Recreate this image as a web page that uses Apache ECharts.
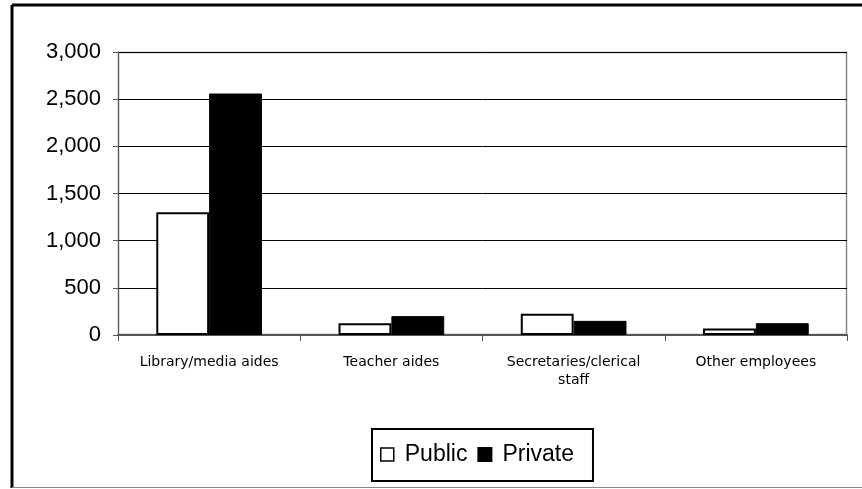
<!DOCTYPE html>
<html>
<head>
<meta charset="utf-8">
<script src="https://cdn.jsdelivr.net/npm/echarts@6/dist/echarts.min.js"></script>
<style>
  html, body { margin: 0; padding: 0; background: #fff; }
  #chart { width: 862px; height: 489px; }
</style>
</head>
<body>
<div id="chart"></div>
<script>
// Staff categories and counts by school sector
const categories = ['Library/media aides', 'Teacher aides', 'Secretaries/clerical\nstaff', 'Other employees'];
const publicValues = [1300, 125, 225, 70];
const privateValues = [2560, 200, 150, 125];
const yTicks = [0, 500, 1000, 1500, 2000, 2500, 3000];

const chart = echarts.init(document.getElementById('chart'), null, { renderer: 'canvas' });
const FONT = '"Liberation Sans", Arial, sans-serif';

chart.setOption({
  animation: false,
  backgroundColor: '#fff',
  graphic: [
    // outer frame: heavy top/left edges, grey bottom
    { type: 'line', shape: { x1: 12, y1: 5, x2: 862, y2: 5 }, style: { stroke: '#000', lineWidth: 3 } },
    { type: 'line', shape: { x1: 12, y1: 5, x2: 12, y2: 488 }, style: { stroke: '#000', lineWidth: 3 } },
    { type: 'line', shape: { x1: 12, y1: 487.5, x2: 862, y2: 487.5 }, style: { stroke: '#888', lineWidth: 1 } },
    // plot area box
    { type: 'rect', shape: { x: 118.5, y: 52.5, width: 728, height: 282 }, style: { fill: 'none', stroke: '#888', lineWidth: 1.5 }, z: 0 }
  ],
  grid: { left: 118, top: 52, right: 15, bottom: 154, containLabel: false },
  legend: {
    top: 429,
    left: 372,
    itemWidth: 13,
    itemHeight: 13,
    itemGap: 10,
    padding: [14, 19, 15, 8],
    borderColor: '#000',
    borderWidth: 2,
    textStyle: { fontFamily: FONT, fontSize: 23, color: '#000', padding: [0, 0, 0, 6] },
    data: [
      { name: 'Public', icon: 'rect', itemStyle: { color: '#fff', borderColor: '#000', borderWidth: 1.5 } },
      { name: 'Private', icon: 'rect', itemStyle: { color: '#000' } }
    ]
  },
  xAxis: {
    type: 'category',
    data: categories,
    axisLine: { lineStyle: { color: '#555', width: 2 } },
    axisTick: { show: true, alignWithLabel: false, length: 6, lineStyle: { color: '#555' } },
    axisLabel: {
      fontFamily: '"DejaVu Sans", sans-serif', fontSize: 14, color: '#000', margin: 18, lineHeight: 18, interval: 0
    }
  },
  yAxis: {
    type: 'value',
    min: 0,
    max: 3000,
    interval: 500,
    axisLine: { show: true, lineStyle: { color: '#555', width: 1 } },
    axisTick: { show: true, length: 5, lineStyle: { color: '#555' } },
    splitLine: { lineStyle: { color: '#000', width: 1 } },
    axisLabel: {
      fontFamily: FONT, fontSize: 22, color: '#000', margin: 17,
      formatter: v => yTicks.includes(v) ? v.toLocaleString('en-US') : ''
    }
  },
  series: [
    {
      name: 'Public', type: 'bar', data: publicValues,
      barGap: '0%', barCategoryGap: '42%',
      itemStyle: { color: '#fff', borderColor: '#000', borderWidth: 2 }
    },
    {
      name: 'Private', type: 'bar', data: privateValues,
      barGap: '0%', barCategoryGap: '42%',
      itemStyle: { color: '#000', borderColor: '#000', borderWidth: 1 }
    }
  ]
});
</script>
</body>
</html>
